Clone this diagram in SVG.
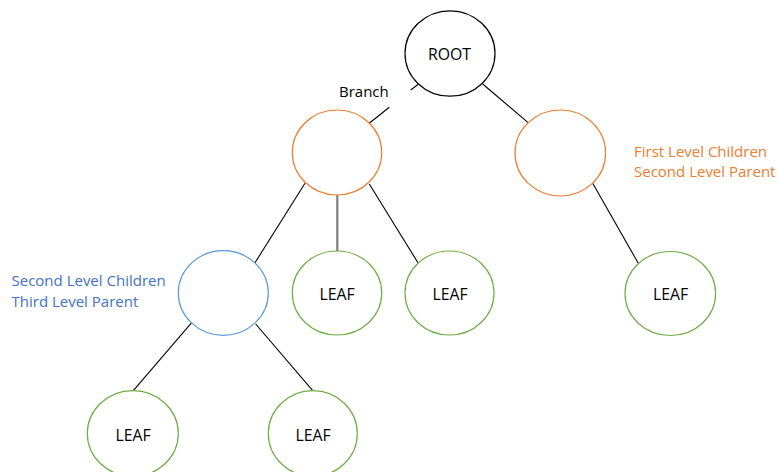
<svg xmlns="http://www.w3.org/2000/svg" width="778" height="472" viewBox="0 0 778 472">
  <style>
    .node { fill: #ffffff; stroke-width: 1.2; }
    .root { stroke: #000000; }
    .first { stroke: #ED7D31; }
    .second { stroke: #5B9BD5; }
    .leaf { stroke: #70AD47; }
    .label { font-family: "Open Sans", "Liberation Sans", sans-serif; font-size: 15px; fill: #000000; }
    .name { font-size: 15.8px; text-anchor: middle; }
    .note-orange { fill: #ED7D31; }
    .note-blue { fill: #4472C4; }
    .edge { stroke: #000000; stroke-width: 1.1; fill: none; }
    .edge-gray { stroke: #7F7F7F; stroke-width: 2.2; fill: none; }
  </style>

  <!-- connectors -->
  <g id="connectors">
    <line class="edge" x1="418.3" y1="84.3" x2="410.7" y2="90"/>
    <line class="edge" x1="389.3" y1="107.3" x2="368.3" y2="124"/>
    <line class="edge" x1="482.7" y1="84" x2="529" y2="123.3"/>
    <line class="edge" x1="305" y1="183.3" x2="255" y2="262.7"/>
    <line class="edge-gray" x1="337.3" y1="195" x2="337.3" y2="251"/>
    <line class="edge" x1="369.3" y1="184" x2="418.3" y2="263.3"/>
    <line class="edge" x1="592.7" y1="183.3" x2="638.3" y2="263.3"/>
    <line class="edge" x1="191.7" y1="322.7" x2="133.3" y2="390.7"/>
    <line class="edge" x1="255.7" y1="324" x2="312.7" y2="390.7"/>
  </g>

  <text class="label" x="339" y="96.7">Branch</text>

  <g id="root">
    <ellipse class="node root" cx="450" cy="53.5" rx="45" ry="42.7"/>
    <text class="label name" x="449.5" y="59.8">ROOT</text>
  </g>

  <g id="first-left">
    <ellipse class="node first" cx="337" cy="152.5" rx="44.7" ry="42.5"/>
  </g>

  <g id="first-right">
    <ellipse class="node first" cx="560.3" cy="153" rx="45.3" ry="43"/>
    <text class="label note-orange" x="634" y="156.7">First Level Children</text>
    <text class="label note-orange" x="634" y="177.3">Second Level Parent</text>
  </g>

  <g id="second">
    <ellipse class="node second" cx="223.3" cy="293" rx="45" ry="42.3"/>
    <text class="label note-blue" x="11.5" y="286">Second Level Children</text>
    <text class="label note-blue" x="11.5" y="306.7">Third Level Parent</text>
  </g>

  <g id="leaf-1">
    <ellipse class="node leaf" cx="337" cy="293" rx="44.7" ry="42"/>
    <text class="label name" x="337" y="300">LEAF</text>
  </g>

  <g id="leaf-2">
    <ellipse class="node leaf" cx="449.5" cy="293" rx="44.5" ry="42"/>
    <text class="label name" x="450" y="300">LEAF</text>
  </g>

  <g id="leaf-3">
    <ellipse class="node leaf" cx="670.3" cy="293.5" rx="45.3" ry="42"/>
    <text class="label name" x="670.5" y="300">LEAF</text>
  </g>

  <g id="leaf-4">
    <ellipse class="node leaf" cx="132.8" cy="433.5" rx="45.5" ry="42.8"/>
    <text class="label name" x="133" y="441">LEAF</text>
  </g>

  <g id="leaf-5">
    <ellipse class="node leaf" cx="312.8" cy="433.5" rx="44.5" ry="42.8"/>
    <text class="label name" x="313" y="441">LEAF</text>
  </g>
</svg>
